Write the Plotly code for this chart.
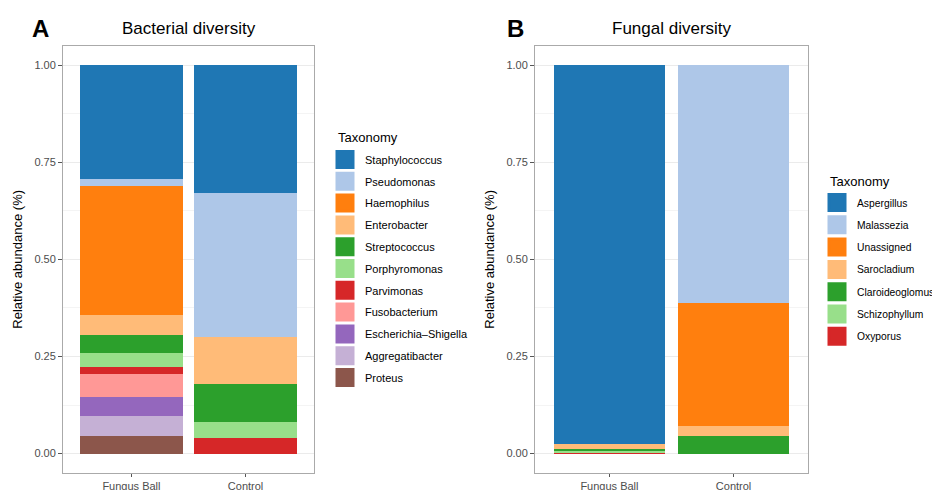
import plotly.graph_objects as go

samples = ["Fungus Ball", "Control"]

bact_taxa = ["Staphylococcus", "Pseudomonas", "Haemophilus", "Enterobacter", "Streptococcus",
             "Porphyromonas", "Parvimonas", "Fusobacterium", "Escherichia\u2013Shigella",
             "Aggregatibacter", "Proteus"]
bact_fungus_ball = [0.2925, 0.0175, 0.334, 0.051, 0.047, 0.035, 0.019, 0.058, 0.050, 0.050, 0.046]
bact_control = [0.328, 0.371, 0.0, 0.122, 0.099, 0.040, 0.040, 0.0, 0.0, 0.0, 0.0]

fung_taxa = ["Aspergillus", "Malassezia", "Unassigned", "Sarocladium", "Claroideoglomus",
             "Schizophyllum", "Oxyporus"]
fung_fungus_ball = [0.975, 0.0, 0.0, 0.013, 0.004, 0.006, 0.002]
fung_control = [0.0, 0.612, 0.316, 0.027, 0.045, 0.0, 0.0]

palette = ["#1f77b4", "#aec7e8", "#ff7f0e", "#ffbb78", "#2ca02c", "#98df8a",
           "#d62728", "#ff9896", "#9467bd", "#c5b0d5", "#8c564b"]

y_ticks = [0.0, 0.25, 0.5, 0.75, 1.0]
y_ticklabels = ["0.00", "0.25", "0.50", "0.75", "1.00"]

FONT = "Liberation Sans, Arial, Helvetica, sans-serif"

# page body has an 8px margin: figure is offset by (8, 8) on screen
W, H, OFF = 940, 490, 8


def px(x):
    return (x - OFF) / W


def py(y):
    return 1 - (y - OFF) / H


fig = go.Figure()

# Stacked bars: ggplot stacks first level on top, so add in reverse order
for i in reversed(range(len(bact_taxa))):
    fig.add_trace(go.Bar(x=samples, y=[bact_fungus_ball[i], bact_control[i]],
                         name=bact_taxa[i], marker=dict(color=palette[i], line=dict(width=0)),
                         showlegend=False, xaxis="x", yaxis="y", hoverinfo="name+y"))
for i in reversed(range(len(fung_taxa))):
    fig.add_trace(go.Bar(x=samples, y=[fung_fungus_ball[i], fung_control[i]],
                         name=fung_taxa[i], marker=dict(color=palette[i], line=dict(width=0)),
                         showlegend=False, xaxis="x2", yaxis="y2", hoverinfo="name+y"))

# Legend entries
for i, t in enumerate(bact_taxa):
    fig.add_trace(go.Scatter(x=[None], y=[None], mode="markers", name=t, legend="legend",
                             legendgroup="b" + str(i),
                             marker=dict(symbol="square", size=16, color=palette[i],
                                         line=dict(color=palette[i], width=3)),
                             xaxis="x", yaxis="y"))
for i, t in enumerate(fung_taxa):
    fig.add_trace(go.Scatter(x=[None], y=[None], mode="markers", name=t, legend="legend2",
                             legendgroup="f" + str(i),
                             marker=dict(symbol="square", size=16, color=palette[i],
                                         line=dict(color=palette[i], width=3)),
                             xaxis="x2", yaxis="y2"))

ydom = [py(473), py(45.7)]

common_y = dict(range=[-0.05, 1.05], tickvals=y_ticks, ticktext=y_ticklabels,
                ticks="outside", ticklen=4, tickcolor="#555555", tickwidth=1,
                tickfont=dict(size=11, color="#4d4d4d", family=FONT),
                showgrid=True, gridcolor="#ebebeb", gridwidth=1,
                minor=dict(tickvals=[0.125, 0.375, 0.625, 0.875], showgrid=True,
                           gridcolor="#f4f4f4", gridwidth=1, ticks=""),
                zeroline=False, showline=True, linecolor="#aaaaaa", linewidth=1, mirror=True,
                automargin=False,
                title=dict(text="Relative abundance (%)", font=dict(size=13, color="#000000", family=FONT),
                           standoff=8))
common_x = dict(type="category", range=[-0.6, 1.6], ticks="outside", ticklen=3,
                tickcolor="#555555", tickwidth=1, automargin=False,
                tickfont=dict(size=11, color="#4d4d4d", family=FONT),
                showgrid=False, zeroline=False, showline=True, linecolor="#aaaaaa",
                linewidth=1, mirror=True)

legend_common = dict(xanchor="left", yanchor="top", bgcolor="rgba(0,0,0,0)",
                     traceorder="grouped", itemclick=False, itemdoubleclick=False)

fig.update_layout(
    template="none",
    width=W, height=H,
    margin=dict(l=0, r=0, t=0, b=0, autoexpand=False),
    paper_bgcolor="white", plot_bgcolor="white",
    barmode="stack", bargap=0.1,
    font=dict(family=FONT, color="#4d4d4d"),
    xaxis=dict(domain=[px(63), px(314)], anchor="y", **common_x),
    yaxis=dict(domain=ydom, anchor="x", **common_y),
    xaxis2=dict(domain=[px(535), px(808)], anchor="y2", **common_x),
    yaxis2=dict(domain=ydom, anchor="x2", **common_y),
    legend=dict(x=px(325), y=py(145), font=dict(size=11, color="#000000", family=FONT),
                tracegroupgap=2.8, **legend_common),
    legend2=dict(x=px(817), y=py(188), font=dict(size=10.3, color="#000000", family=FONT),
                 tracegroupgap=3.3, **legend_common),
    annotations=[
        dict(text="Bacterial diversity", x=px(188.5), y=py(28), xref="paper", yref="paper",
             xanchor="center", yanchor="middle", showarrow=False,
             font=dict(size=17, color="#000000", family=FONT)),
        dict(text="Fungal diversity", x=px(671.5), y=py(28), xref="paper", yref="paper",
             xanchor="center", yanchor="middle", showarrow=False,
             font=dict(size=17, color="#000000", family=FONT)),
        dict(text="<b>A</b>", x=px(40), y=py(28), xref="paper", yref="paper",
             xanchor="center", yanchor="middle", showarrow=False,
             font=dict(size=24, color="#000000", family=FONT)),
        dict(text="<b>B</b>", x=px(515), y=py(28), xref="paper", yref="paper",
             xanchor="center", yanchor="middle", showarrow=False,
             font=dict(size=24, color="#000000", family=FONT)),
        dict(text="Taxonomy", x=px(336), y=py(137), xref="paper", yref="paper",
             xanchor="left", yanchor="middle", showarrow=False,
             font=dict(size=13, color="#000000", family=FONT)),
        dict(text="Taxonomy", x=px(828), y=py(181), xref="paper", yref="paper",
             xanchor="left", yanchor="middle", showarrow=False,
             font=dict(size=13, color="#000000", family=FONT)),
    ],
)

fig.write_html("out.html")
